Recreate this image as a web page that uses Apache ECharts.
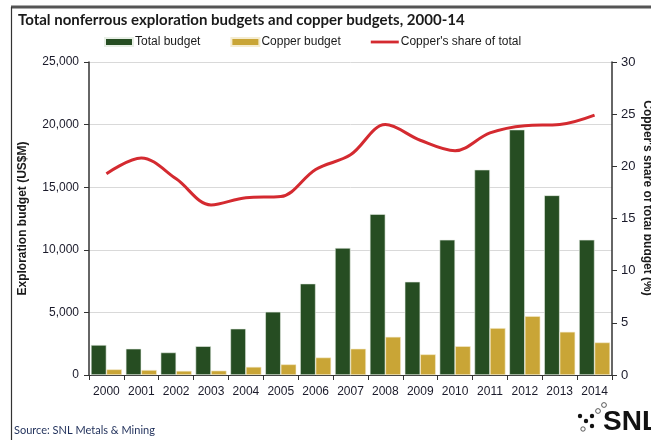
<!DOCTYPE html>
<html>
<head>
<meta charset="utf-8">
<script src="https://cdn.jsdelivr.net/npm/echarts@6/dist/echarts.min.js"></script>
<style>html,body{margin:0;padding:0;background:#fff}#c{width:651px;height:440px}</style>
</head>
<body>
<div id="c"></div>
<script>
const years = ['2000','2001','2002','2003','2004','2005','2006','2007','2008','2009','2010','2011','2012','2013','2014'];
const totalBudget = [2400, 2100, 1800, 2300, 3700, 5050, 7300, 10150, 12850, 7450, 10800, 16400, 19600, 14350, 10800];
const copperBudget = [450, 400, 330, 350, 650, 850, 1400, 2100, 3050, 1650, 2300, 3750, 4700, 3450, 2600];
const copperShare = [19.3, 20.8, 18.8, 16.3, 17.0, 17.1, 19.7, 21.1, 24.0, 22.5, 21.5, 23.2, 23.9, 24.0, 24.9];
const leftTicks = [0, 5000, 10000, 15000, 20000, 25000];
const rightTicks = [0, 5, 10, 15, 20, 25, 30];

const chart = echarts.init(document.getElementById('c'));
const axisFont = {fontFamily: 'Liberation Sans, Arial, sans-serif', fontSize: 12, color: '#1a1a2a'};
chart.setOption({
  animation: false,
  title: {
    text: 'Total nonferrous exploration budgets and copper budgets, 2000-14',
    left: 13, top: 8,
    textStyle: {fontFamily: 'Lato, sans-serif', fontWeight: 'bold', fontSize: 15, color: '#1a1a1a'}
  },
  legend: {
    top: 31, left: 99,
    itemGap: 30, itemWidth: 28, itemHeight: 8,
    textStyle: {fontFamily: 'Liberation Sans, Arial, sans-serif', fontSize: 12, color: '#1a1a1a', padding: [0,0,0,-3]},
    data: [
      {name: 'Total budget', icon: 'rect'},
      {name: 'Copper budget', icon: 'rect'},
      {name: "Copper's share of total", icon: 'path://M0,0 L10,0 L10,1 L0,1 Z'}
    ]
  },
  grid: {left: 89, right: 39, top: 62, bottom: 65},
  xAxis: {
    type: 'category', data: years,
    axisLine: {lineStyle: {color: '#333', width: 1}},
    axisTick: {show: true, length: 5, lineStyle: {color: '#333'}},
    axisLabel: Object.assign({margin: 11, interval: 0}, axisFont)
  },
  yAxis: [
    {
      type: 'value', min: 0, max: 25000, interval: 5000,
      name: 'Exploration budget (US$M)', nameLocation: 'middle', nameGap: 60, nameRotate: 90,
      nameTextStyle: {fontFamily: 'Liberation Sans, Arial, sans-serif', fontWeight: 'bold', fontSize: 12, color: '#1a1a1a'},
      axisLine: {show: true, lineStyle: {color: '#333', width: 1.5}},
      axisTick: {show: true, length: 5, lineStyle: {color: '#333'}},
      axisLabel: Object.assign({margin: 10, formatter: v => v.toLocaleString('en-US')}, axisFont),
      splitLine: {show: true, lineStyle: {color: '#d9d9d9'}}
    },
    {
      type: 'value', min: 0, max: 30, interval: 5, position: 'right',
      axisLine: {show: true, lineStyle: {color: '#333', width: 1.5}},
      axisTick: {show: true, length: 5, lineStyle: {color: '#333'}},
      axisLabel: Object.assign({margin: 9}, axisFont, {fontSize: 13}),
      splitLine: {show: false}
    }
  ],
  series: [
    {name: 'Total budget', type: 'bar', data: totalBudget, barGap: '0%', barCategoryGap: '11%',
     itemStyle: {color: '#264d22', borderColor: '#e8efe6', borderWidth: 0.6}},
    {name: 'Copper budget', type: 'bar', data: copperBudget,
     itemStyle: {color: '#c9a536', borderColor: '#f5ecd0', borderWidth: 0.6}},
    {name: "Copper's share of total", type: 'line', yAxisIndex: 1, data: copperShare, smooth: 0.35,
     symbol: 'none', lineStyle: {color: '#d42a30', width: 3}, itemStyle: {color: '#d42a30'}, z: 5}
  ],
  graphic: [
    {type: 'line', shape: {x1: 11, y1: 7, x2: 651, y2: 7}, style: {stroke: '#555', lineWidth: 3}},
    {type: 'line', shape: {x1: 11.5, y1: 7, x2: 11.5, y2: 440}, style: {stroke: '#333', lineWidth: 1.2}},
    {type: 'text', x: 647, y: 198, rotation: -Math.PI / 2,
     style: {text: "Copper's share of total budget (%)", font: 'bold 12px "Liberation Sans", Arial, sans-serif', fill: '#1a1a1a', align: 'center', verticalAlign: 'middle'}},
    {type: 'text', left: 14, top: 425, style: {text: 'Source: SNL Metals & Mining', font: '11px Lato, sans-serif', fill: '#1f2f5a'}},
    {type: 'text', left: 603, top: 408, style: {text: 'SNL', font: 'bold 28px "Liberation Sans", Arial, sans-serif', fill: '#111'}},
    {type: 'circle', shape: {cx: 586, cy: 421, r: 2.2}, style: {fill: '#111'}},
    {type: 'circle', shape: {cx: 592, cy: 416, r: 2.2}, style: {fill: '#111'}},
    {type: 'circle', shape: {cx: 592, cy: 426, r: 2.2}, style: {fill: '#111'}},
    {type: 'circle', shape: {cx: 580, cy: 416, r: 2.2}, style: {fill: '#111'}},
    {type: 'circle', shape: {cx: 583, cy: 429, r: 2.2}, style: {fill: 'none', stroke: '#333', lineWidth: 0.8}},
    {type: 'circle', shape: {cx: 598, cy: 411, r: 2.4}, style: {fill: 'none', stroke: '#333', lineWidth: 0.8}},
    {type: 'circle', shape: {cx: 604, cy: 405, r: 2.4}, style: {fill: 'none', stroke: '#333', lineWidth: 0.8}}
  ]
});
</script>
</body>
</html>
